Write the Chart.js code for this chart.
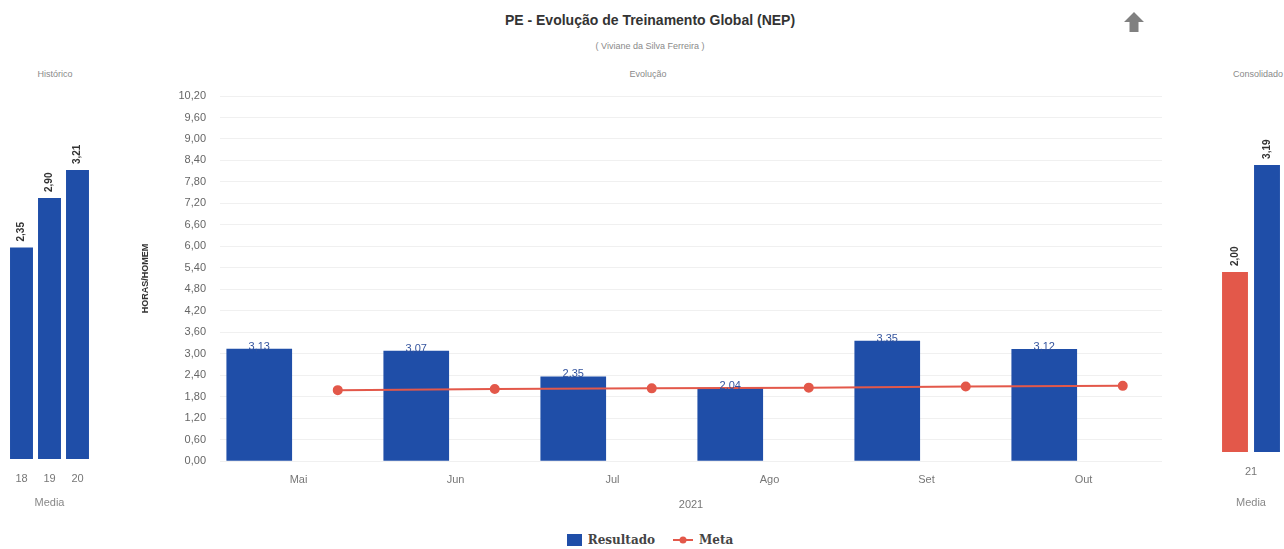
<!DOCTYPE html>
<html>
<head>
<meta charset="utf-8">
<script src="https://cdn.jsdelivr.net/npm/chart.js@4/dist/chart.umd.min.js"></script>
<style>
  html, body { margin: 0; padding: 0; background: #fff; overflow: hidden; }
  body { width: 1284px; height: 549px; position: relative; font-family: "Liberation Sans", Arial, sans-serif; }
  .abs { position: absolute; }
  .cap { font-size: 9px; color: #8a8a8a; transform: translateX(-50%); white-space: nowrap; }
  #title { left: 650px; top: 12px; transform: translateX(-50%); font-size: 14px; font-weight: bold; color: #333; white-space: nowrap; }
  #sub { left: 650px; top: 41px; }
  #arrow { left: 1123px; top: 11px; }
  #legend { left: 0; width: 1300px; top: 533px; display: flex; justify-content: center; gap: 18px;
            font-family: "DejaVu Serif", serif; font-weight: bold; font-size: 12px; color: #444; }
  #legend span.item { display: flex; align-items: center; gap: 6px; }
  canvas { position: absolute; }
</style>
</head>
<body>
<div id="title" class="abs">PE - Evolução de Treinamento Global (NEP)</div>
<div id="sub" class="abs cap">( Viviane da Silva Ferreira )</div>
<svg id="arrow" class="abs" width="22" height="22" viewBox="0 0 22 22">
  <polygon points="11,1 21,11 15.5,11 15.5,21 6.5,21 6.5,11 1,11" fill="#808080"/>
</svg>
<div class="abs cap" style="left:55px; top:69px;">Histórico</div>
<div class="abs cap" style="left:648px; top:69px;">Evolução</div>
<div class="abs cap" style="left:1258px; top:69px;">Consolidado</div>
<div id="legend" class="abs"></div>

<canvas id="hist" style="left:0; top:60px;" width="100" height="460"></canvas>
<canvas id="main" style="left:140px; top:60px;" width="1035" height="460"></canvas>
<canvas id="cons" style="left:1185px; top:60px;" width="110" height="460"></canvas>

<script>
// data
const months = ["Mai", "Jun", "Jul", "Ago", "Set", "Out"];
const resultado = [3.13, 3.07, 2.35, 2.04, 3.35, 3.12];
const meta = [1.98, 2.01, 2.03, 2.05, 2.08, 2.10];

const histYears = ["18", "19", "20"];
const histValues = [2.35, 2.90, 3.21];

const consYear = ["21"];
const consMeta = [2.00];
const consResultado = [3.19];

const yTicksMax = 10.2;
const yTickStep = 0.6;

const BLUE = "#1f4ea8";
const RED = "#e3584a";
const fmt = (v) => v.toFixed(2).replace(".", ",");

// legend
const legend = document.getElementById("legend");
legend.innerHTML =
  '<span class="item"><span style="display:inline-block;width:15px;height:12px;background:' + BLUE + '"></span>Resultado</span>' +
  '<span class="item"><svg width="20" height="10"><line x1="0" y1="5" x2="20" y2="5" stroke="' + RED + '" stroke-width="2"/><circle cx="10" cy="5" r="3.5" fill="' + RED + '"/></svg>Meta</span>';

// labels above the blue bars of the main chart
const barValueLabels = {
  id: "barValueLabels",
  afterDatasetsDraw(chart) {
    const ctx = chart.ctx;
    const meta0 = chart.getDatasetMeta(0);
    ctx.save();
    ctx.font = "11px 'Liberation Sans', Arial";
    ctx.fillStyle = "#34549e";
    ctx.textAlign = "center";
    ctx.textBaseline = "bottom";
    meta0.data.forEach((bar, i) => {
      ctx.fillText(fmt(resultado[i]), bar.x, bar.y + 3);
    });
    ctx.restore();
  }
};

// vertical labels above the small side bars
const rotatedLabels = {
  id: "rotatedLabels",
  afterDatasetsDraw(chart) {
    const ctx = chart.ctx;
    ctx.save();
    ctx.font = "bold 10px 'Liberation Sans', Arial";
    ctx.fillStyle = "#333";
    ctx.textAlign = "left";
    ctx.textBaseline = "middle";
    chart.data.datasets.forEach((ds, di) => {
      chart.getDatasetMeta(di).data.forEach((bar, i) => {
        ctx.save();
        ctx.translate(bar.x, bar.y - 6);
        ctx.rotate(-Math.PI / 2);
        ctx.fillText(fmt(ds.data[i]), 0, 0);
        ctx.restore();
      });
    });
    ctx.restore();
  }
};

// bars sit in the left half of each month, the goal points in the right half
const SHIFT = 0.25;

new Chart(document.getElementById("main"), {
  data: {
    labels: months,
    datasets: [
      {
        type: "bar",
        label: "Resultado",
        data: resultado.map((v, i) => ({ x: i - SHIFT, y: v })),
        xAxisID: "xm",
        backgroundColor: BLUE,
        barThickness: 65,
        order: 2
      },
      {
        type: "line",
        label: "Meta",
        data: meta.map((v, i) => ({ x: i + SHIFT, y: v })),
        xAxisID: "xm",
        borderColor: RED,
        backgroundColor: RED,
        borderWidth: 2,
        pointRadius: 4,
        pointHoverRadius: 4,
        tension: 0,
        order: 1
      }
    ]
  },
  options: {
    responsive: false,
    animation: false,
    layout: { padding: { left: 0, right: 13, top: 36, bottom: 0 } },
    plugins: { legend: { display: false }, tooltip: { enabled: false } },
    scales: {
      x: {
        type: "category",
        offset: true,
        grid: { display: false, drawTicks: false },
        border: { display: false },
        ticks: { padding: 12, color: "#777", font: { size: 11, family: "'Liberation Sans', Arial" } },
        title: { display: true, text: "2021", color: "#777", font: { size: 11 }, padding: { top: 0, bottom: 8 } },
        afterFit: (s) => { s.height = 59; }
      },
      xm: {
        type: "linear",
        display: false,
        offset: false,
        min: -0.5,
        max: months.length - 0.5
      },
      y: {
        min: 0,
        max: yTicksMax,
        grid: { color: "#f0f0f0", drawTicks: false },
        border: { display: false },
        ticks: {
          stepSize: yTickStep,
          padding: 14,
          color: "#666",
          font: { size: 11, family: "'Liberation Sans', Arial" },
          callback: (v) => fmt(v)
        },
        title: { display: true, text: "HORAS/HOMEM", color: "#333", font: { size: 9, weight: "bold" }, padding: 0 },
        afterFit: (s) => { s.width = 80; }
      }
    }
  },
  plugins: [barValueLabels]
});

const sideOptions = (yMax, padLeft, padRight, padTop, axisHeight) => ({
  responsive: false,
  animation: false,
  layout: { padding: { left: padLeft, right: padRight, top: padTop, bottom: 0 } },
  plugins: { legend: { display: false }, tooltip: { enabled: false } },
  scales: {
    x: {
      grid: { display: false, drawTicks: false },
      border: { display: false },
      ticks: { padding: 13, color: "#777", font: { size: 11, family: "'Liberation Sans', Arial" } },
      title: { display: true, text: "Media", color: "#888", font: { size: 11 }, padding: { top: 0, bottom: 10 } },
      afterFit: (s) => { s.height = axisHeight; }
    },
    y: { display: false, min: 0, max: yMax }
  }
});

new Chart(document.getElementById("hist"), {
  type: "bar",
  data: {
    labels: histYears,
    datasets: [{ label: "Resultado", data: histValues, backgroundColor: BLUE, categoryPercentage: 1, barPercentage: 0.82 }]
  },
  options: sideOptions(4, 7.5, 8.5, 39, 61),
  plugins: [rotatedLabels]
});

new Chart(document.getElementById("cons"), {
  type: "bar",
  data: {
    labels: consYear,
    datasets: [
      { label: "Meta", data: consMeta, backgroundColor: RED, categoryPercentage: 0.8, barPercentage: 0.81 },
      { label: "Resultado", data: consResultado, backgroundColor: BLUE, categoryPercentage: 0.8, barPercentage: 0.81 }
    ]
  },
  options: sideOptions(4, 26, 4, 32, 68),
  plugins: [rotatedLabels]
});
</script>
</body>
</html>
